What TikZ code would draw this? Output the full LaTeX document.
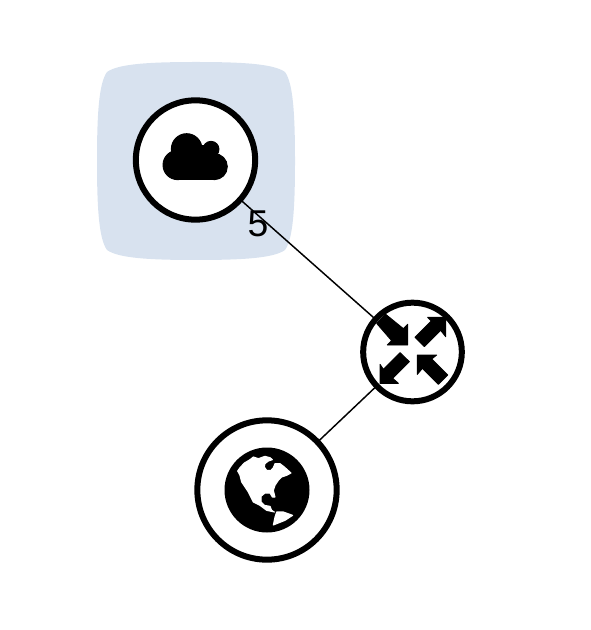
\documentclass[tikz,border=0pt]{standalone}
\usepackage{fontspec}
\setmainfont{Liberation Sans}
\tikzset{
  x=0.75pt,y=-0.75pt,
  ring/.style={circle,draw=black,fill=white,line width=4.5pt,inner sep=0pt,outer sep=0pt},
  link/.style={draw=black,line width=1.1pt},
  icon/.style={fill=black,draw=black,line width=0.7pt,line join=round},
  land/.style={fill=white,draw=white,line width=0.8pt,line join=round},
  zoomrouter/.style={shift={(355,295)},x=0.25pt,y=-0.25pt},
  zoomcloud/.style={shift={(155,125)},x=0.25pt,y=-0.25pt},
  zoomglobe/.style={shift={(225,447)},x=0.25pt,y=-0.25pt},
}
\definecolor{groupblue}{HTML}{D8E2EF}
\begin{document}
\begin{tikzpicture}
\useasboundingbox (0,0) rectangle (590,630);
% group background
\begin{scope}[shift={(196,161)}]
\fill[groupblue] (0,-99)
  .. controls (-48,-99) and (-78,-97) .. (-89,-89)
  .. controls (-97,-78) and (-99,-48) .. (-99,0)
  .. controls (-99,48) and (-97,78) .. (-89,89)
  .. controls (-78,97) and (-48,99) .. (0,99)
  .. controls (48,99) and (78,97) .. (89,89)
  .. controls (97,78) and (99,48) .. (99,0)
  .. controls (99,-48) and (97,-78) .. (89,-89)
  .. controls (78,-97) and (48,-99) .. (0,-99) -- cycle;
\end{scope}
% nodes
\node[ring,minimum size=89.5pt] (cloud) at (195.5,160) {};
\node[ring,minimum size=74pt] (router) at (412.5,352) {};
\node[ring,minimum size=104.5pt] (globe) at (267,490) {};
% connectors
\draw[link] (cloud) -- (router);
\draw[link] (router) -- (globe);
% cloud icon
\begin{scope}[zoomcloud]
\path[icon] (68,120) circle[radius=44];
\path[icon] (178,125) circle[radius=39];
\path[icon] (95,72) circle[radius=46];
\path[icon] (168,73) circle[radius=24];
\path[icon] (68,100) rectangle (178,164);
\path[icon] (95,60) rectangle (168,100);
\end{scope}
% router icon
\begin{scope}[zoomrouter]
\path[icon] (65,85) -- (92,58) -- (145,101) -- (158,88) -- (158,150) -- (97,150) -- (110,137) -- cycle;
\path[icon] (180,127) -- (229,78) -- (218,67) -- (272,67) -- (272,125) -- (257,106) -- (208,155) -- cycle;
\path[icon] (135,173) -- (163,200) -- (113,250) -- (130,265) -- (75,265) -- (75,208) -- (85,223) -- cycle;
\path[icon] (187,180) -- (245,180) -- (230,192) -- (278,240) -- (250,268) -- (202,220) -- (187,238) -- cycle;
\end{scope}
% globe icon
\path[fill=black] (267,490) circle[radius=42.5];
\begin{scope}[zoomglobe]
\path[land] (38,72) -- (45,62) -- (58,48) -- (75,38) -- (85,30) -- (100,35) -- (120,28) -- (135,32) -- (142,38) -- (130,42) -- (120,50) -- (118,60) -- (125,70) -- (138,70) -- (145,62) -- (150,50) -- (165,50) -- (178,60) -- (198,78) -- (185,85) -- (170,90) -- (160,100) -- (150,115) -- (145,130) -- (150,150) -- (142,150) -- (135,138) -- (120,138) -- (108,148) -- (108,165) -- (118,175) -- (135,178) -- (140,190) -- (148,195) -- (125,190) -- (105,175) -- (85,165) -- (70,135) -- (50,105) -- (45,85) -- cycle;
\path[land] (155,195) -- (175,195) -- (203,205) -- (180,220) -- (145,234) -- (150,210) -- cycle;
\end{scope}
\node[font=\fontsize{28}{28}\selectfont,inner sep=0pt] (lbl) at (258,224) {5};
\end{tikzpicture}
\end{document}
